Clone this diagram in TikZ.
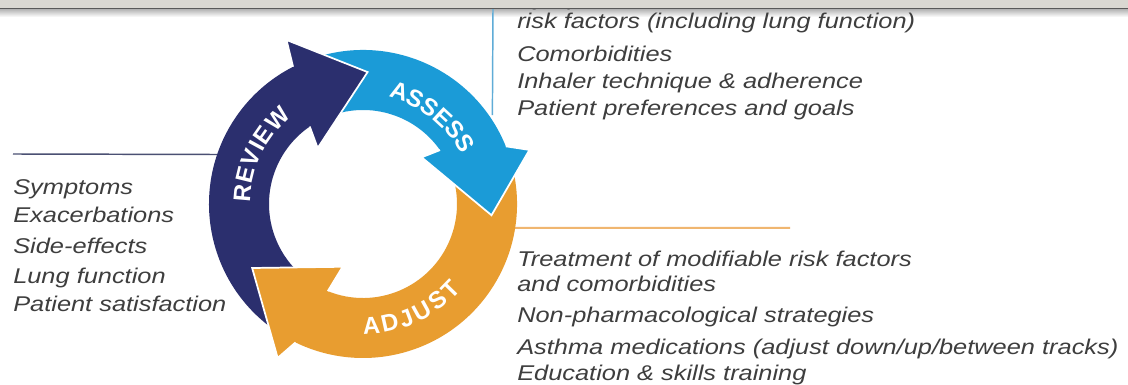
\documentclass[tikz,border=0pt]{standalone}
\usepackage{fontspec}
\setmainfont{Liberation Sans}
\newfontfamily\txtfont{Liberation Sans}[FakeStretch=1.19]
\definecolor{navy}{RGB}{43,47,110}
\definecolor{cyanb}{RGB}{27,155,215}
\definecolor{orng}{RGB}{232,157,48}
\definecolor{txtgray}{RGB}{62,62,62}
\definecolor{bargray}{RGB}{218,216,210}
\definecolor{linenavy}{RGB}{75,80,115}
\definecolor{lineorange}{RGB}{240,182,112}
\definecolor{lineblue}{RGB}{95,172,215}
\begin{document}
\begin{tikzpicture}[x=0.75pt,y=0.75pt,
  item/.style={anchor=base west, inner sep=0pt, text=txtgray, font=\txtfont\itshape\fontsize{16}{16}\selectfont},
  headline/.style={draw=white, line width=1.3pt, line join=miter},
  lbl/.style={inner sep=0pt, text=white, font=\fontsize{18}{18}\selectfont\bfseries}
]
\useasboundingbox (0,0) rectangle (1128,385);
\fill[white] (0,0) rectangle (1128,385);

% shadow under the window bar
\shade[top color=black!30, bottom color=white] (0,376) rectangle (1128,368);

% connector lines
\coordinate (navystart) at (13,231);
\coordinate (orgstop) at (790,157);
\coordinate (bluetop) at (493,376);
\begin{scope}[shift={(363,181)}]
  \coordinate (navyend) at (161:152);
  \coordinate (orgend) at (-9:152);
  \coordinate (blueend) at (34.5:157);
\end{scope}
\draw[linenavy, line width=1.1pt] (navystart) -- (navyend);
\draw[lineorange, line width=1.5pt] (orgend) -- (orgstop);
\draw[lineblue, line width=1.1pt] (bluetop) -- (blueend);

% ring of arrows
\begin{scope}[shift={(363,181)}]
  % full arrows
  \fill[orng] (15:154) arc[start angle=15,end angle=-116,radius=154] -- (-119:176) -- (-150:128) -- (-108:66) -- (-112:94) arc[start angle=-112,end angle=15,radius=94] -- cycle;
  \fill[cyanb] (110:154) arc[start angle=110,end angle=22,radius=154] -- (18:175) -- (-5:129) -- (38.5:75) -- (35:94) arc[start angle=35,end angle=110,radius=94] -- cycle;
  \fill[navy] (235:154) arc[start angle=235,end angle=117,radius=154] -- (115:181) -- (88:132) -- (129:72) -- (124.5:94) arc[start angle=124.5,end angle=235,radius=94] -- cycle;
  % heads on top, with white outline
  \filldraw[fill=orng, headline] (-116:154) -- (-119:176) -- (-150:128) -- (-108:66) -- (-112:94);
  \filldraw[fill=cyanb, headline] (22:154) -- (18:175) -- (-5:129) -- (38.5:75) -- (35:94);
  \filldraw[fill=navy, headline] (117:154) -- (115:181) -- (88:132) -- (129:72) -- (124.5:94);
  % labels along the ring
  \foreach \ch/\ang [count=\i] in {R/175,E/166.2,V/157.7,I/151.4,E/145.1,W/135}
    \node[lbl, rotate=\ang-90] (rv\i) at (\ang:121) {\ch};
  \foreach \ch/\ang [count=\i] in {A/72,S/63.6,S/55.4,E/47.2,S/39.0,S/30.8}
    \node[lbl, rotate=\ang-90] (as\i) at (\ang:118) {\ch};
  \foreach \ch/\ang [count=\i] in {A/-86,D/-77.3,J/-69.2,U/-61.1,S/-52.3,T/-44.2}
    \node[lbl, rotate=\ang+90] (ad\i) at (\ang:122) {\ch};
\end{scope}

% right top block
\node[item] (a0) at (517,379) {Symptom control \& modifiable};
\node[item] (a1) at (517,356) {risk factors (including lung function)};
\node[item] (a2) at (517,323) {Comorbidities};
\node[item] (a3) at (517,296) {Inhaler technique \& adherence};
\node[item] (a4) at (517,269) {Patient preferences and goals};

% left block
\node[item] (r1) at (13,190) {Symptoms};
\node[item] (r2) at (13,162) {Exacerbations};
\node[item] (r3) at (13,131) {Side-effects};
\node[item] (r4) at (13,101) {Lung function};
\node[item] (r5) at (13,73) {Patient satisfaction};

% right bottom block
\node[item] (j1) at (517,118) {Treatment of modifiable risk factors};
\node[item] (j2) at (517,93) {and comorbidities};
\node[item] (j3) at (517,62) {Non-pharmacological strategies};
\node[item] (j4) at (517,30) {Asthma medications (adjust down/up/between tracks)};
\node[item] (j5) at (517,4) {Education \& skills training};

% top window bar
\fill[bargray] (0,377) rectangle (1128,385);
\draw[black!65, line width=1pt] (0,376.6) -- (1128,376.6);
\end{tikzpicture}
\end{document}
